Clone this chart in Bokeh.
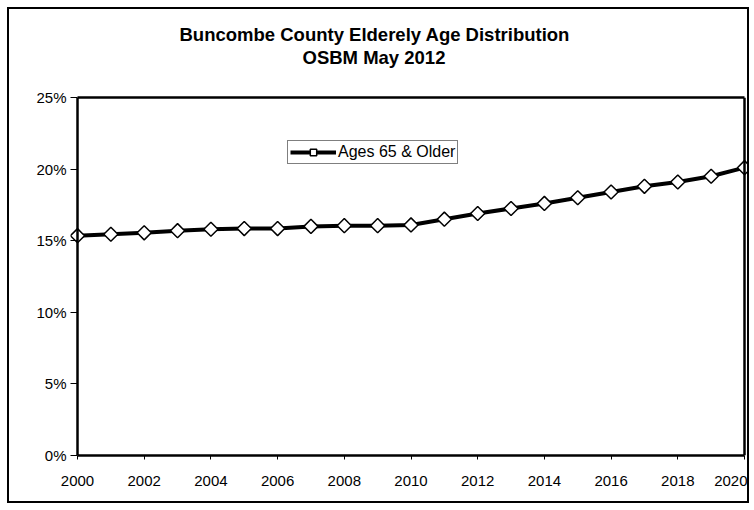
from bokeh.plotting import figure
from bokeh.models import (Title, Legend, LegendItem, PrintfTickFormatter, FixedTicker,
                          Range1d, LinearAxis)
from bokeh.embed import file_html
from bokeh.resources import INLINE

# ---- data ----
years = list(range(2000, 2021))
pct_65_older = [15.35, 15.45, 15.55, 15.7, 15.8, 15.85, 15.85, 16.0, 16.05, 16.05, 16.1,
                16.5, 16.9, 17.25, 17.6, 18.0, 18.4, 18.8, 19.1, 19.5, 20.1]
y_ticks = [0, 5, 10, 15, 20, 25]
x_ticks = list(range(2000, 2021, 2))
title_line1 = "Buncombe County Elderely Age Distribution"
title_line2 = "OSBM May 2012"
series_name = "Ages 65 & Older"

FONT = "Liberation Sans"
pad = 0.21  # years of breathing room so end markers are not clipped

p = figure(width=742, height=496, output_backend="svg", toolbar_location=None,
           x_range=Range1d(years[0] - pad, years[-1] + pad),
           y_range=Range1d(y_ticks[0], y_ticks[-1]),
           min_border_left=61, min_border_right=0, min_border_top=88, min_border_bottom=50,
           x_axis_location=None, y_axis_location=None)
p.outline_line_color = None
p.grid.visible = False
p.background_fill_color = "white"
p.border_fill_color = "white"
p.styles = {"margin-left": "7px", "margin-top": "7px", "border": "2px solid black"}

# main title line uses the figure's own title (outermost in the top panel)
p.title.text = title_line1
p.title.align = "left"
p.title.offset = 109
p.title.text_font = FONT
p.title.text_font_size = "18.5px"
p.title.text_font_style = "bold"
p.title.text_color = "black"
p.title.standoff = 0


def style_axis(ax, font_size="15px"):
    ax.axis_line_color = "black"
    ax.axis_line_width = 2.5
    ax.major_tick_line_color = "black"
    ax.major_tick_line_width = 1
    ax.minor_tick_line_color = None
    ax.major_tick_in = 0
    ax.major_tick_out = 4
    ax.major_label_text_font = FONT
    ax.major_label_text_font_size = font_size
    ax.major_label_text_color = "black"


def line_only(ax):
    style_axis(ax, "0px")
    ax.major_tick_line_color = None
    ax.major_tick_out = 0
    ax.major_label_standoff = 0


# bottom axis: ticks, labels and bottom border of the plot box
xaxis = LinearAxis(ticker=FixedTicker(ticks=x_ticks), bounds=(years[0], years[-1]))
style_axis(xaxis)
xaxis.major_label_standoff = 16
p.add_layout(xaxis, "below")

# left axis: ticks and labels only (ticks reach in to the box line)
yaxis = LinearAxis(ticker=FixedTicker(ticks=y_ticks), formatter=PrintfTickFormatter(format="%d%%"))
style_axis(yaxis)
yaxis.axis_line_color = None
yaxis.major_tick_out = 0
yaxis.major_tick_in = 7
yaxis.major_label_standoff = 4
p.add_layout(yaxis, "left")

# box lines
left_line = LinearAxis(ticker=FixedTicker(ticks=[]), fixed_location=years[0])
line_only(left_line)
p.add_layout(left_line, "left")
right_line = LinearAxis(ticker=FixedTicker(ticks=[]), fixed_location=years[-1])
line_only(right_line)
p.add_layout(right_line, "left")
top_line = LinearAxis(ticker=FixedTicker(ticks=[]), bounds=(years[0], years[-1]))
line_only(top_line)
# an undrawn axis label reserves space between the box and the titles
top_line.axis_label = "."
top_line.axis_label_text_color = None
top_line.axis_label_text_font = FONT
top_line.axis_label_text_font_size = "28px"
top_line.axis_label_standoff = 0
p.add_layout(top_line, "above")

# white (invisible) spacer, then the second title line (first added sits nearest the plot)
p.add_layout(Title(text=".", text_color="white", text_font_size="1px", standoff=5), "above")
p.add_layout(Title(text=title_line2, align="left", offset=232, text_font=FONT,
                   text_font_size="18.5px", text_font_style="bold", text_color="black",
                   standoff=0), "above")

r_line = p.line(years, pct_65_older, line_width=4, line_color="black")
r_mark = p.scatter(years, pct_65_older, marker="square", angle=0.785398, size=10,
                   fill_color="white", line_color="black", line_width=1.5)

legend = Legend(items=[LegendItem(label=series_name, renderers=[r_line, r_mark])],
                location=(217, 291), orientation="vertical",
                border_line_color="black", border_line_width=1.5,
                background_fill_color="white", background_fill_alpha=1,
                label_text_font=FONT, label_text_font_size="16px", label_text_color="black",
                glyph_width=46, glyph_height=16, label_height=16, label_standoff=2,
                padding=2, spacing=0, margin=0)
p.add_layout(legend)

open("out.html", "w").write(file_html(p, INLINE))
